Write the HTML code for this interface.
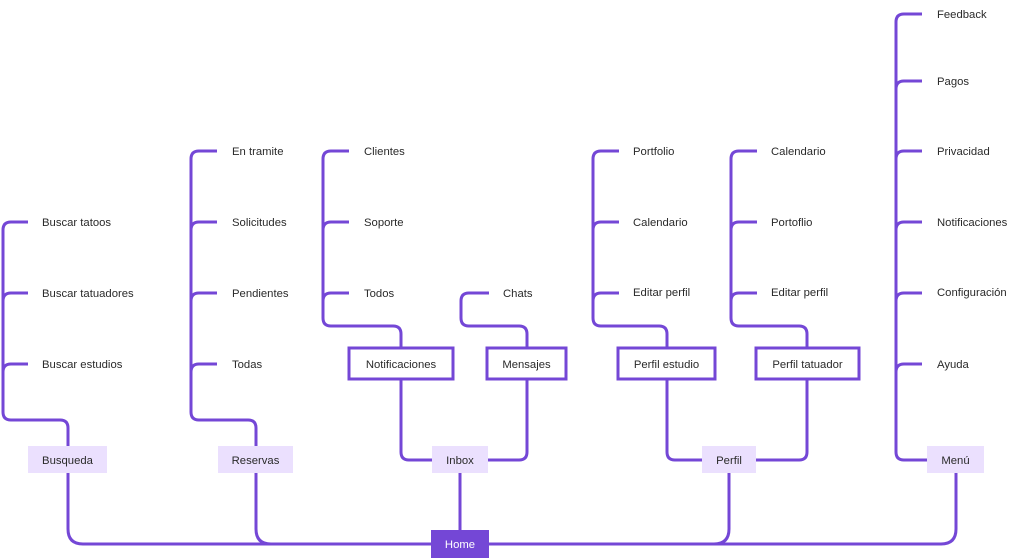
<!DOCTYPE html>
<html><head><meta charset="utf-8"><style>
html,body{margin:0;padding:0;background:#fff;}
svg{display:block;}
text{font-family:"Liberation Sans",sans-serif;font-size:11.3px;fill:#2a2a2a;dominant-baseline:central;}
</style></head><body>
<svg width="1024" height="558" viewBox="0 0 1024 558">
<g fill="none" stroke="#7447d6" stroke-width="3" stroke-linejoin="round">
<path d="M68 473 V529 Q68 544 83 544 H941 Q956 544 956 529 V473"/>
<path d="M256 473 V529 Q256 544 271 544"/>
<path d="M729 473 V529 Q729 544 714 544"/>
<path d="M460 473 V530"/>
<path d="M68 446 V428 Q68 420 60 420 H11 Q3 420 3 412 V230 Q3 222 11 222 H28"/>
<path d="M3 301 Q3 293 11 293 H28"/><path d="M3 372 Q3 364 11 364 H28"/>
<path d="M256 446 V428 Q256 420 248 420 H199 Q191 420 191 412 V159 Q191 151 199 151 H217"/>
<path d="M191 230 Q191 222 199 222 H217"/><path d="M191 301 Q191 293 199 293 H217"/><path d="M191 372 Q191 364 199 364 H217"/>
<path d="M401 348 V334 Q401 326 393 326 H331 Q323 326 323 318 V159 Q323 151 331 151 H349"/>
<path d="M323 230 Q323 222 331 222 H349"/><path d="M323 301 Q323 293 331 293 H349"/>
<path d="M401 379 V452 Q401 460 409 460 H432"/>
<path d="M527 348 V334 Q527 326 519 326 H469 Q461 326 461 318 V301 Q461 293 469 293 H489"/>
<path d="M527 379 V452 Q527 460 519 460 H488"/>
<path d="M667 348 V334 Q667 326 659 326 H601 Q593 326 593 318 V159 Q593 151 601 151 H619"/>
<path d="M593 230 Q593 222 601 222 H619"/><path d="M593 301 Q593 293 601 293 H619"/>
<path d="M667 379 V452 Q667 460 675 460 H702"/>
<path d="M807 348 V334 Q807 326 799 326 H739 Q731 326 731 318 V159 Q731 151 739 151 H757"/>
<path d="M731 230 Q731 222 739 222 H757"/><path d="M731 301 Q731 293 739 293 H757"/>
<path d="M807 379 V452 Q807 460 799 460 H756"/>
<path d="M928 460 H904 Q896 460 896 452 V22 Q896 14 904 14 H922"/>
<path d="M896 89 Q896 81 904 81 H922"/><path d="M896 159 Q896 151 904 151 H922"/>
<path d="M896 230 Q896 222 904 222 H922"/><path d="M896 301 Q896 293 904 293 H922"/><path d="M896 372 Q896 364 904 364 H922"/>
</g>
<g fill="#ebe0fe">
<rect x="28" y="446" width="79" height="27"/>
<rect x="218" y="446" width="75" height="27"/>
<rect x="432" y="446" width="56" height="27"/>
<rect x="702" y="446" width="54" height="27"/>
<rect x="927" y="446" width="57" height="27"/>
</g>
<rect x="431" y="530" width="58" height="28" fill="#7447d6"/>
<g fill="#fff" stroke="#7447d6" stroke-width="3">
<rect x="349" y="348" width="104" height="31"/>
<rect x="487" y="348" width="79" height="31"/>
<rect x="618" y="348" width="97" height="31"/>
<rect x="756" y="348" width="103" height="31"/>
</g>
<g text-anchor="middle">
<text x="67.5" y="461">Busqueda</text>
<text x="255.5" y="461">Reservas</text>
<text x="460" y="461">Inbox</text>
<text x="729" y="461">Perfil</text>
<text x="955.5" y="461">Menú</text>
<text x="460" y="545" style="fill:#fff">Home</text>
<text x="401" y="365">Notificaciones</text>
<text x="526.5" y="365">Mensajes</text>
<text x="666.5" y="365">Perfil estudio</text>
<text x="807.5" y="365">Perfil tatuador</text>
</g>
<text x="42" y="223">Buscar tatoos</text>
<text x="42" y="294">Buscar tatuadores</text>
<text x="42" y="365">Buscar estudios</text>
<text x="232" y="152">En tramite</text>
<text x="232" y="223">Solicitudes</text>
<text x="232" y="294">Pendientes</text>
<text x="232" y="365">Todas</text>
<text x="364" y="152">Clientes</text>
<text x="364" y="223">Soporte</text>
<text x="364" y="294">Todos</text>
<text x="503" y="294">Chats</text>
<text x="633" y="152">Portfolio</text>
<text x="633" y="223">Calendario</text>
<text x="633" y="293">Editar perfil</text>
<text x="771" y="152">Calendario</text>
<text x="771" y="223">Portoflio</text>
<text x="771" y="293">Editar perfil</text>
<text x="937" y="15">Feedback</text>
<text x="937" y="82">Pagos</text>
<text x="937" y="152">Privacidad</text>
<text x="937" y="223">Notificaciones</text>
<text x="937" y="293">Configuración</text>
<text x="937" y="365">Ayuda</text>
</svg>
</body></html>
